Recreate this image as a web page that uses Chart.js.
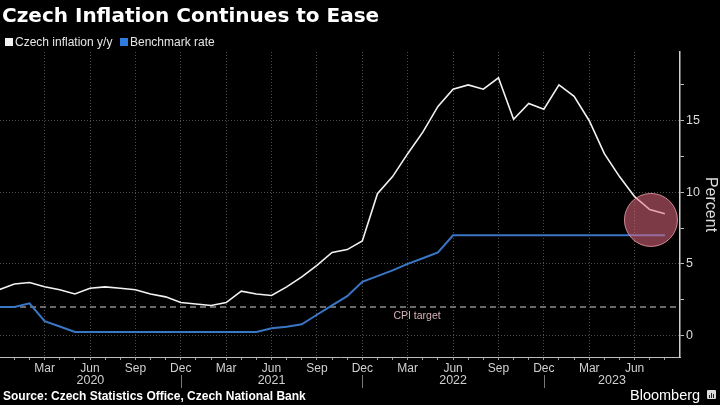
<!DOCTYPE html>
<html>
<head>
<meta charset="utf-8">
<title>Czech Inflation Continues to Ease</title>
<script src="https://cdn.jsdelivr.net/npm/chart.js@4.4.1/dist/chart.umd.min.js"></script>
<style>
  html, body {
    margin: 0;
    padding: 0;
    background: #000;
  }

  #wrap {
    position: relative;
    width: 720px;
    height: 405px;
    overflow: hidden;
    background: #000;
    font-family: 'Liberation Sans', Arial, sans-serif;
    color: #fff;
  }

  #chart {
    position: absolute;
    left: 0;
    top: 0;
  }

  .title {
    position: absolute;
    left: 2px;
    top: 5px;
    font-family: 'DejaVu Sans', sans-serif;
    font-weight: bold;
    font-size: 20px;
    line-height: 20px;
    white-space: nowrap;
  }

  .legend-item {
    position: absolute;
    top: 36px;
    font-size: 12px;
    line-height: 12px;
    color: #e6e6e6;
    white-space: nowrap;
  }

  .swatch {
    position: absolute;
    top: 38px;
    width: 8px;
    height: 8px;
  }

  .source {
    position: absolute;
    left: 3px;
    top: 390px;
    font-size: 12px;
    line-height: 12px;
    font-weight: bold;
    white-space: nowrap;
  }

  .brand {
    position: absolute;
    left: 630px;
    top: 388px;
    font-size: 14.5px;
    line-height: 14.5px;
    white-space: nowrap;
  }

  .logo {
    position: absolute;
    left: 707px;
    top: 390px;
    width: 9px;
    height: 9px;
    background: #dcdcdc;
    border-radius: 1px;
  }

  .logo span {
    position: absolute;
    bottom: 1px;
    width: 1px;
    background: #222;
  }
</style>
</head>
<body>
<div id="wrap">
  <canvas id="chart" width="720" height="405"></canvas>

  <div class="title">Czech Inflation Continues to Ease</div>

  <div class="swatch" style="left:5px;background:#f2f2f2;"></div>
  <div class="legend-item" style="left:15px;">Czech inflation y/y</div>
  <div class="swatch" style="left:120px;background:#2f7be0;"></div>
  <div class="legend-item" style="left:130px;">Benchmark rate</div>

  <div class="source">Source: Czech Statistics Office, Czech National Bank</div>
  <div class="brand">Bloomberg</div>
  <div class="logo">
    <span style="left:2px;height:3px;"></span>
    <span style="left:4px;height:5px;"></span>
    <span style="left:6px;height:4px;"></span>
  </div>
</div>

<script>
// DATA

const months = [
  'Dec 2019',
  'Jan 2020', 'Feb 2020', 'Mar 2020', 'Apr 2020', 'May 2020', 'Jun 2020',
  'Jul 2020', 'Aug 2020', 'Sep 2020', 'Oct 2020', 'Nov 2020', 'Dec 2020',
  'Jan 2021', 'Feb 2021', 'Mar 2021', 'Apr 2021', 'May 2021', 'Jun 2021',
  'Jul 2021', 'Aug 2021', 'Sep 2021', 'Oct 2021', 'Nov 2021', 'Dec 2021',
  'Jan 2022', 'Feb 2022', 'Mar 2022', 'Apr 2022', 'May 2022', 'Jun 2022',
  'Jul 2022', 'Aug 2022', 'Sep 2022', 'Oct 2022', 'Nov 2022', 'Dec 2022',
  'Jan 2023', 'Feb 2023', 'Mar 2023', 'Apr 2023', 'May 2023', 'Jun 2023',
  'Jul 2023', 'Aug 2023',
];

const inflation = [
  3.2,
  3.6, 3.7, 3.4, 3.2, 2.9, 3.3,
  3.4, 3.3, 3.2, 2.9, 2.7, 2.3,
  2.2, 2.1, 2.3, 3.1, 2.9, 2.8,
  3.4, 4.1, 4.9, 5.8, 6.0, 6.6,
  9.9, 11.1, 12.7, 14.2, 16.0, 17.2,
  17.5, 17.2, 18.0, 15.1, 16.2, 15.8,
  17.5, 16.7, 15.0, 12.7, 11.1, 9.7,
  8.8, 8.5,
];

const benchmarkRate = [
  2.0,
  2.0, 2.25, 1.0, 0.63, 0.25, 0.25,
  0.25, 0.25, 0.25, 0.25, 0.25, 0.25,
  0.25, 0.25, 0.25, 0.25, 0.25, 0.5,
  0.62, 0.78, 1.45, 2.1, 2.75, 3.75,
  4.15, 4.55, 5.0, 5.4, 5.8, 7.0,
  7.0, 7.0, 7.0, 7.0, 7.0, 7.0,
  7.0, 7.0, 7.0, 7.0, 7.0, 7.0,
  7.0, 7.0,
];

const cpiTarget = 2;

const yearLabels = ['2020', '2021', '2022', '2023'];

const yTicks = [0, 2.5, 5, 7.5, 10, 12.5, 15, 17.5];
const yLabels = [0, 5, 10, 15];

// highlighted latest reading (the pink circle)
const highlight = { x: 43.08, y: 8.07 };

// SCALE RANGE

const xMin = 0.05;
const xMax = 45;
const yMin = -1.5;
const yMax = 19.8;

const isQuarter = i =>
  ['Mar', 'Jun', 'Sep', 'Dec'].includes(
    (months[i] || '').slice(0, 3)
  );

const toPoints = values =>
  values.map((y, i) => ({ x: i, y }));

// YEAR LABELS + CPI LABEL UNDER / ON THE CHART

const extrasPlugin = {
  id: 'extras',

  afterDraw(chart) {
    const { ctx } = chart;
    const x = chart.scales.x;
    const y = chart.scales.y;

    // year breaks sit under each December tick
    const breaks = months
      .map((m, i) => (m.startsWith('Dec') && i > 0 ? i : null))
      .filter(i => i !== null);

    const bounds = [xMin, ...breaks, xMax];

    ctx.save();

    ctx.strokeStyle = '#777';
    ctx.lineWidth = 1;
    breaks.forEach(b => {
      const px = Math.round(x.getPixelForValue(b)) + 0.5;
      ctx.beginPath();
      ctx.moveTo(px, 375);
      ctx.lineTo(px, 388);
      ctx.stroke();
    });

    ctx.fillStyle = '#d0d0d0';
    ctx.font = '12.5px "Liberation Sans", Arial, sans-serif';
    ctx.textAlign = 'center';
    ctx.textBaseline = 'middle';
    yearLabels.forEach((label, i) => {
      const mid = (bounds[i] + bounds[i + 1]) / 2;
      ctx.fillText(label, x.getPixelForValue(mid), 381);
    });

    // CPI target label
    ctx.fillStyle = '#d6b3bb';
    ctx.font = '10.5px "Liberation Sans", Arial, sans-serif';
    ctx.fillText(
      'CPI target',
      x.getPixelForValue(27.62),
      y.getPixelForValue(1.37)
    );

    ctx.restore();
  },
};

new Chart(
  document.getElementById('chart'),
  {
    type: 'line',

    data: {
      datasets: [
        {
          type: 'scatter',
          label: 'Latest',
          data: [highlight],
          pointRadius: 26.5,
          pointHoverRadius: 26.5,
          backgroundColor: 'rgba(226, 104, 128, 0.55)',
          borderColor: 'rgba(236, 150, 166, 0.85)',
          borderWidth: 1,
          order: 0,
        },
        {
          label: 'Czech inflation y/y',
          data: toPoints(inflation),
          borderColor: '#f2f2f2',
          borderWidth: 1.6,
          pointRadius: 0,
          tension: 0,
          order: 1,
        },
        {
          label: 'Benchmark rate',
          data: toPoints(benchmarkRate),
          borderColor: '#3a76c6',
          borderWidth: 2,
          pointRadius: 0,
          tension: 0,
          order: 2,
        },
        {
          label: 'CPI target',
          data: [
            { x: xMin, y: cpiTarget },
            { x: xMax, y: cpiTarget },
          ],
          borderColor: '#8c8c8c',
          borderWidth: 1.5,
          borderDash: [6, 4],
          pointRadius: 0,
          order: 3,
        },
      ],
    },

    options: {
      responsive: false,
      animation: false,
      events: [],
      devicePixelRatio: 1,

      layout: {
        autoPadding: false,
        padding: {
          top: 52,
          left: 0,
          right: 0,
          bottom: 0,
        },
      },

      plugins: {
        legend: { display: false },
        tooltip: { enabled: false },
      },

      scales: {
        x: {
          type: 'linear',
          min: xMin,
          max: xMax,

          afterBuildTicks: scale => {
            scale.ticks = months
              .map((m, i) => ({ value: i }))
              .filter(t => t.value >= 1);
          },

          afterFit: scale => {
            scale.height = 48;
          },

          ticks: {
            autoSkip: false,
            maxRotation: 0,
            padding: 1,
            color: '#d0d0d0',
            font: {
              family: '"Liberation Sans", Arial, sans-serif',
              size: 12,
            },
            callback: value =>
              isQuarter(value) ? months[value].slice(0, 3) : '',
          },

          grid: {
            color: ctx =>
              ctx.tick && isQuarter(ctx.tick.value)
                ? '#4d4d4d'
                : 'rgba(0,0,0,0)',
            lineWidth: 1,
            tickLength: 3,
            tickColor: '#9a9a9a',
          },

          border: {
            color: '#bdbdbd',
            width: 1,
            dash: [1, 2],
          },
        },

        y: {
          position: 'right',
          min: yMin,
          max: yMax,

          afterBuildTicks: scale => {
            scale.ticks = yTicks.map(v => ({ value: v }));
          },

          afterFit: scale => {
            scale.width = 40;
          },

          ticks: {
            padding: 2,
            color: '#dcdcdc',
            font: {
              family: '"Liberation Sans", Arial, sans-serif',
              size: 12.5,
            },
            callback: value =>
              yLabels.includes(value) ? String(value) : '',
          },

          grid: {
            color: ctx =>
              ctx.tick && yLabels.includes(ctx.tick.value)
                ? '#4d4d4d'
                : 'rgba(0,0,0,0)',
            lineWidth: 1,
            tickLength: 4,
            tickColor: '#bdbdbd',
          },

          border: {
            color: '#cfcfcf',
            width: 1.5,
            dash: [1, 2],
          },

          title: {
            display: true,
            text: 'Percent',
            color: '#dcdcdc',
            padding: 0,
            font: {
              family: '"Liberation Sans", Arial, sans-serif',
              size: 16,
            },
          },
        },
      },
    },

    plugins: [extrasPlugin],
  }
);
</script>
</body>
</html>
